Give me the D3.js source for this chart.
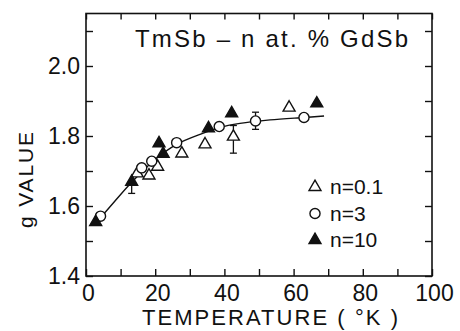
<!DOCTYPE html>
<html><head><meta charset="utf-8">
<script src="https://cdn.jsdelivr.net/npm/d3@7.9.0/dist/d3.min.js"></script>
<style>
body{margin:0;background:#fff}
svg{display:block}
text{font-family:"Liberation Sans",Arial,sans-serif;fill:#111}
</style>
</head><body>
<svg width="460" height="331"></svg>
<script>
// values: temperature (K) vs g value
const t01=[14.8,18.2,20.7,27.7,34.4,42.6,58.7];
const g01=[1.693,1.687,1.712,1.750,1.776,1.798,1.881];
const t3=[4.2,16.1,19.0,26.2,38.5,49.0,63.0];
const g3=[1.571,1.709,1.728,1.781,1.827,1.843,1.853];
const t10=[2.8,13.2,21.1,22.3,35.4,42.1,66.7];
const g10=[1.554,1.669,1.779,1.749,1.822,1.865,1.893];
// error bars
const errT=[13.2,42.6,49.0],errLo=[1.636,1.751,1.819],errHi=[1.669,1.830,1.868];
// hand drawn fit curve
const fitT=[2.8,8,13.2,20,26.2,33.9,38.5,44.5,53.2,63,68.8];
const fitG=[1.551,1.61,1.668,1.733,1.776,1.808,1.824,1.836,1.846,1.853,1.857];
const xLabels=[0,20,40,60,80,100],yLabels=[1.4,1.6,1.8,2.0];
const legendLabels=['n=0.1','n=3','n=10'];

const svg=d3.select('svg');
const x=d3.scaleLinear([0,100],[86,432]),y=d3.scaleLinear([1.4,2.15],[276,13.5]);
const xt=d3.range(0,101,10),yt=d3.range(1.4,2.151,0.1).map(v=>+v.toFixed(1));
const lab=(arr,f)=>v=>arr.some(a=>Math.abs(a-v)<1e-6)?f(v):'';

const fs='23px';
svg.append('g').attr('transform','translate(0,276)')
 .call(d3.axisBottom(x).tickValues(xt).tickSizeInner(-7).tickSizeOuter(0).tickPadding(9).tickFormat(lab(xLabels,d3.format('d'))))
 .call(g=>g.selectAll('text').attr('font-size',fs).attr('dx',2));
svg.append('g').attr('transform','translate(86,0)')
 .call(d3.axisLeft(y).tickValues(yt).tickSizeInner(-7).tickSizeOuter(0).tickPadding(6).tickFormat(lab(yLabels,d3.format('.1f'))))
 .call(g=>g.selectAll('text').attr('font-size',fs));
svg.append('g').attr('transform','translate(0,13.5)')
 .call(d3.axisTop(x).tickValues(xt).tickSizeInner(-6).tickSizeOuter(0).tickFormat(''));
svg.append('g').attr('transform','translate(432,0)')
 .call(d3.axisRight(y).tickValues(yt).tickSizeInner(-7).tickSizeOuter(0).tickFormat(''));
svg.selectAll('.domain').remove();
svg.selectAll('.tick line').attr('stroke','#111').attr('stroke-width',1.4);
svg.append('rect').attr('x',86).attr('y',13.5).attr('width',346).attr('height',262.5)
 .attr('fill','none').attr('stroke','#111').attr('stroke-width',1.6);

// fit line
svg.append('path').datum(fitT.map((t,i)=>[t,fitG[i]]))
 .attr('d',d3.line().x(d=>x(d[0])).y(d=>y(d[1])).curve(d3.curveCatmullRom))
 .attr('fill','none').attr('stroke','#111').attr('stroke-width',1.4);

// error bars
const eb=svg.append('g').attr('stroke','#111').attr('stroke-width',1.3);
errT.forEach((t,i)=>{
 eb.append('line').attr('x1',x(t)).attr('x2',x(t)).attr('y1',y(errLo[i])).attr('y2',y(errHi[i]));
 [errLo[i],errHi[i]].forEach(v=>eb.append('line').attr('x1',x(t)-3.5).attr('x2',x(t)+3.5).attr('y1',y(v)).attr('y2',y(v)));
});

const tri=d3.symbol(d3.symbolTriangle,62),cir=d3.symbol(d3.symbolCircle,80);
function pts(ts,gs,sym,fill){
 svg.append('g').selectAll('path').data(ts.map((t,i)=>[t,gs[i]])).join('path')
  .attr('d',sym).attr('transform',d=>`translate(${x(d[0])},${y(d[1])})`)
  .attr('fill',fill).attr('stroke','#111').attr('stroke-width',1.4);
}
pts(t01,g01,tri,'#fff');pts(t3,g3,cir,'#fff');pts(t10,g10,tri,'#111');

// legend
const lg=svg.append('g');
const syms=[[tri,'#fff'],[cir,'#fff'],[tri,'#111']];
legendLabels.forEach((s,i)=>{
 const yy=187+i*26.5;
 lg.append('path').attr('d',syms[i][0]).attr('transform',`translate(315,${yy})`)
  .attr('fill',syms[i][1]).attr('stroke','#111').attr('stroke-width',1.4);
 lg.append('text').attr('x',330).attr('y',yy).attr('dy','0.35em').attr('font-size','21px').text(s);
});

svg.append('text').attr('x',135).attr('y',47).attr('font-size','24px')
 .attr('textLength',273).attr('lengthAdjust','spacing').text('TmSb – n at. % GdSb');
svg.append('text').attr('x',142).attr('y',325).attr('font-size','22px')
 .attr('textLength',256).attr('lengthAdjust','spacing').text('TEMPERATURE ( °K )');
svg.append('text').attr('transform','translate(33,180) rotate(-90)').attr('text-anchor','middle')
 .attr('font-size','21px').attr('textLength',96).attr('lengthAdjust','spacing').text('g VALUE');
</script>
</body></html>
